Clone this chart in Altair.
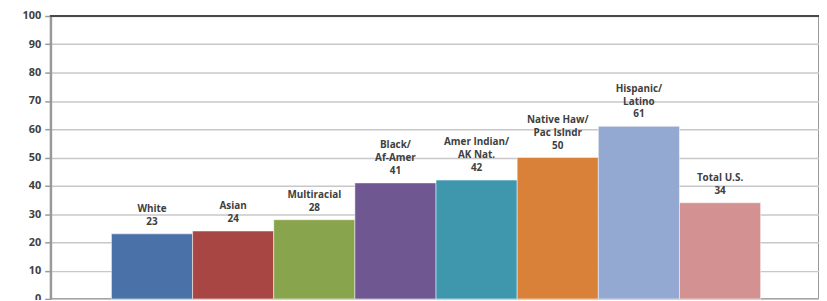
import altair as alt
import pandas as pd

categories = ["White", "Asian", "Multiracial", "Black/Af-Amer", "Amer Indian/AK Nat.",
              "Native Haw/Pac Islndr", "Hispanic/Latino", "Total U.S."]
name_line1 = ["", "", "", "Black/", "Amer Indian/", "Native Haw/", "Hispanic/", ""]
name_line2 = ["White", "Asian", "Multiracial", "Af-Amer", "AK Nat.", "Pac Islndr", "Latino", "Total U.S."]
values = [23, 24, 28, 41, 42, 50, 61, 34]
colors = ["#4A72A8", "#A84643", "#88A44D", "#6F5791", "#3F97AE", "#DA8139", "#93A9D1", "#D39192"]
y_ticks = [0, 10, 20, 30, 40, 50, 60, 70, 80, 90, 100]

df = pd.DataFrame({
    "category": categories,
    "value": values,
    "line1": name_line1,
    "line2": name_line2,
    "color": colors,
})

x = alt.X("category:N", sort=categories, axis=None,
          scale=alt.Scale(paddingInner=0, paddingOuter=0.734, align=0.51))
y_axis = alt.Axis(values=y_ticks, title=None, grid=True, gridColor="#c8c8c8",
                  gridWidth=1.5, domainColor="#999999", domainWidth=2,
                  tickColor="#999999", tickSize=6, tickWidth=1.5,
                  labelFont="Open Sans", labelFontWeight="bold", labelFontSize=11,
                  labelColor="#404040", labelPadding=4)
y = alt.Y("value:Q", scale=alt.Scale(domain=[0, 100], nice=False), axis=y_axis)

bars = alt.Chart(df).mark_bar(stroke="white", strokeWidth=0.5).encode(
    x=x, y=y, color=alt.Color("color:N", scale=None))

text_style = dict(baseline="bottom", font="Open Sans", fontWeight="bold",
                  fontSize=10, color="#404040")

value_text = alt.Chart(df).mark_text(dy=-7, **text_style).encode(
    x=x, y=y, text="value:Q")
line2_text = alt.Chart(df).mark_text(dy=-20, **text_style).encode(
    x=x, y=y, text="line2:N")
line1_text = alt.Chart(df).mark_text(dy=-33, **text_style).encode(
    x=x, y=y, text="line1:N")

top_border = alt.Chart(df).mark_rule(color="#4a4a4a", strokeWidth=1.5).encode(
    x=alt.value(0), x2=alt.value(774), y=alt.value(0))

chart = (bars + value_text + line2_text + line1_text + top_border).properties(
    width=774, height=285,
    autosize=alt.AutoSizeParams(type="none"),
    padding={"left": 43, "top": 7, "right": 0, "bottom": 0},
).configure_view(stroke="#999999", strokeWidth=2)

chart.save("out.html", embed_options={"renderer": "svg", "actions": False})
